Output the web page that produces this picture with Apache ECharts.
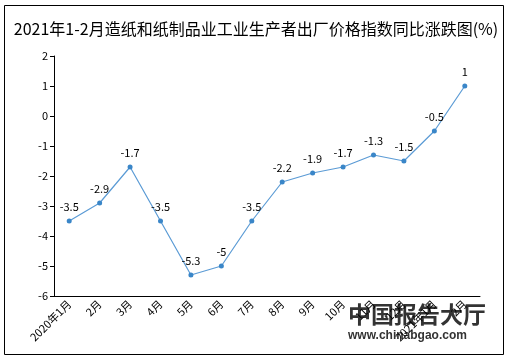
<!DOCTYPE html>
<html><head><meta charset="utf-8">
<script src="https://cdn.jsdelivr.net/npm/echarts@6/dist/echarts.min.js"></script>
<style>html,body{margin:0;padding:0;background:#fff}#c{width:512px;height:361px}</style>
</head><body><div id="c"></div>
<script>
const titleText = '2021年1-2月造纸和纸制品业工业生产者出厂价格指数同比涨跌图(%)';
const categories = ['2020年1月','2月','3月','4月','5月','6月','7月','8月','9月','10月','11月','12月','2021年1月','2月'];
const values = [-3.5,-2.9,-1.7,-3.5,-5.3,-5,-3.5,-2.2,-1.9,-1.7,-1.3,-1.5,-0.5,1];
const yMin = -6, yMax = 2, yStep = 1;
const font = '"Noto Sans CJK SC", "Noto Sans", sans-serif';
const chart = echarts.init(document.getElementById('c'), null, {renderer:'canvas'});
chart.setOption({
  animation:false,
  backgroundColor:'#fff',
  title:{text:titleText,left:'center',top:16,textStyle:{fontFamily:font,fontSize:16,fontWeight:'normal',color:'#000'}},
  grid:{left:54,right:32,top:56,bottom:65},
  xAxis:{type:'category',data:categories,boundaryGap:true,
    axisLine:{onZero:false,lineStyle:{color:'#000',width:1}},
    axisTick:{alignWithLabel:true,length:4,lineStyle:{color:'#000'}},
    axisLabel:{rotate:45,interval:0,color:'#000',fontSize:11,fontFamily:font,margin:6}},
  yAxis:{type:'value',min:yMin,max:yMax,interval:yStep,
    axisLine:{show:true,lineStyle:{color:'#000',width:1}},
    axisTick:{show:true,length:4,lineStyle:{color:'#000'}},
    splitLine:{show:false},
    axisLabel:{color:'#000',fontSize:11,fontFamily:font,margin:6}},
  series:[{type:'line',data:values,symbol:'circle',symbolSize:5,
    lineStyle:{color:'#5b9bd5',width:1.2},
    itemStyle:{color:'#3a86c8'},
    label:{show:true,position:'top',distance:6,color:'#000',fontSize:11,fontFamily:font}}],
  graphic:[
    {type:'rect',shape:{x:4.5,y:5.5,width:499,height:349},style:{fill:'none',stroke:'#000',lineWidth:1},silent:true},
    {type:'text',left:348,top:303,style:{text:'中国报告大厅',fontSize:23,fontWeight:'bold',fontFamily:font,fill:'#333'},silent:true},
    {type:'text',left:348,top:330,style:{text:'www.chinabgao.com',fontSize:12,fontWeight:'bold',fontFamily:'"Liberation Sans", Arial, sans-serif',fill:'#333'},silent:true}
  ]
});
</script></body></html>
